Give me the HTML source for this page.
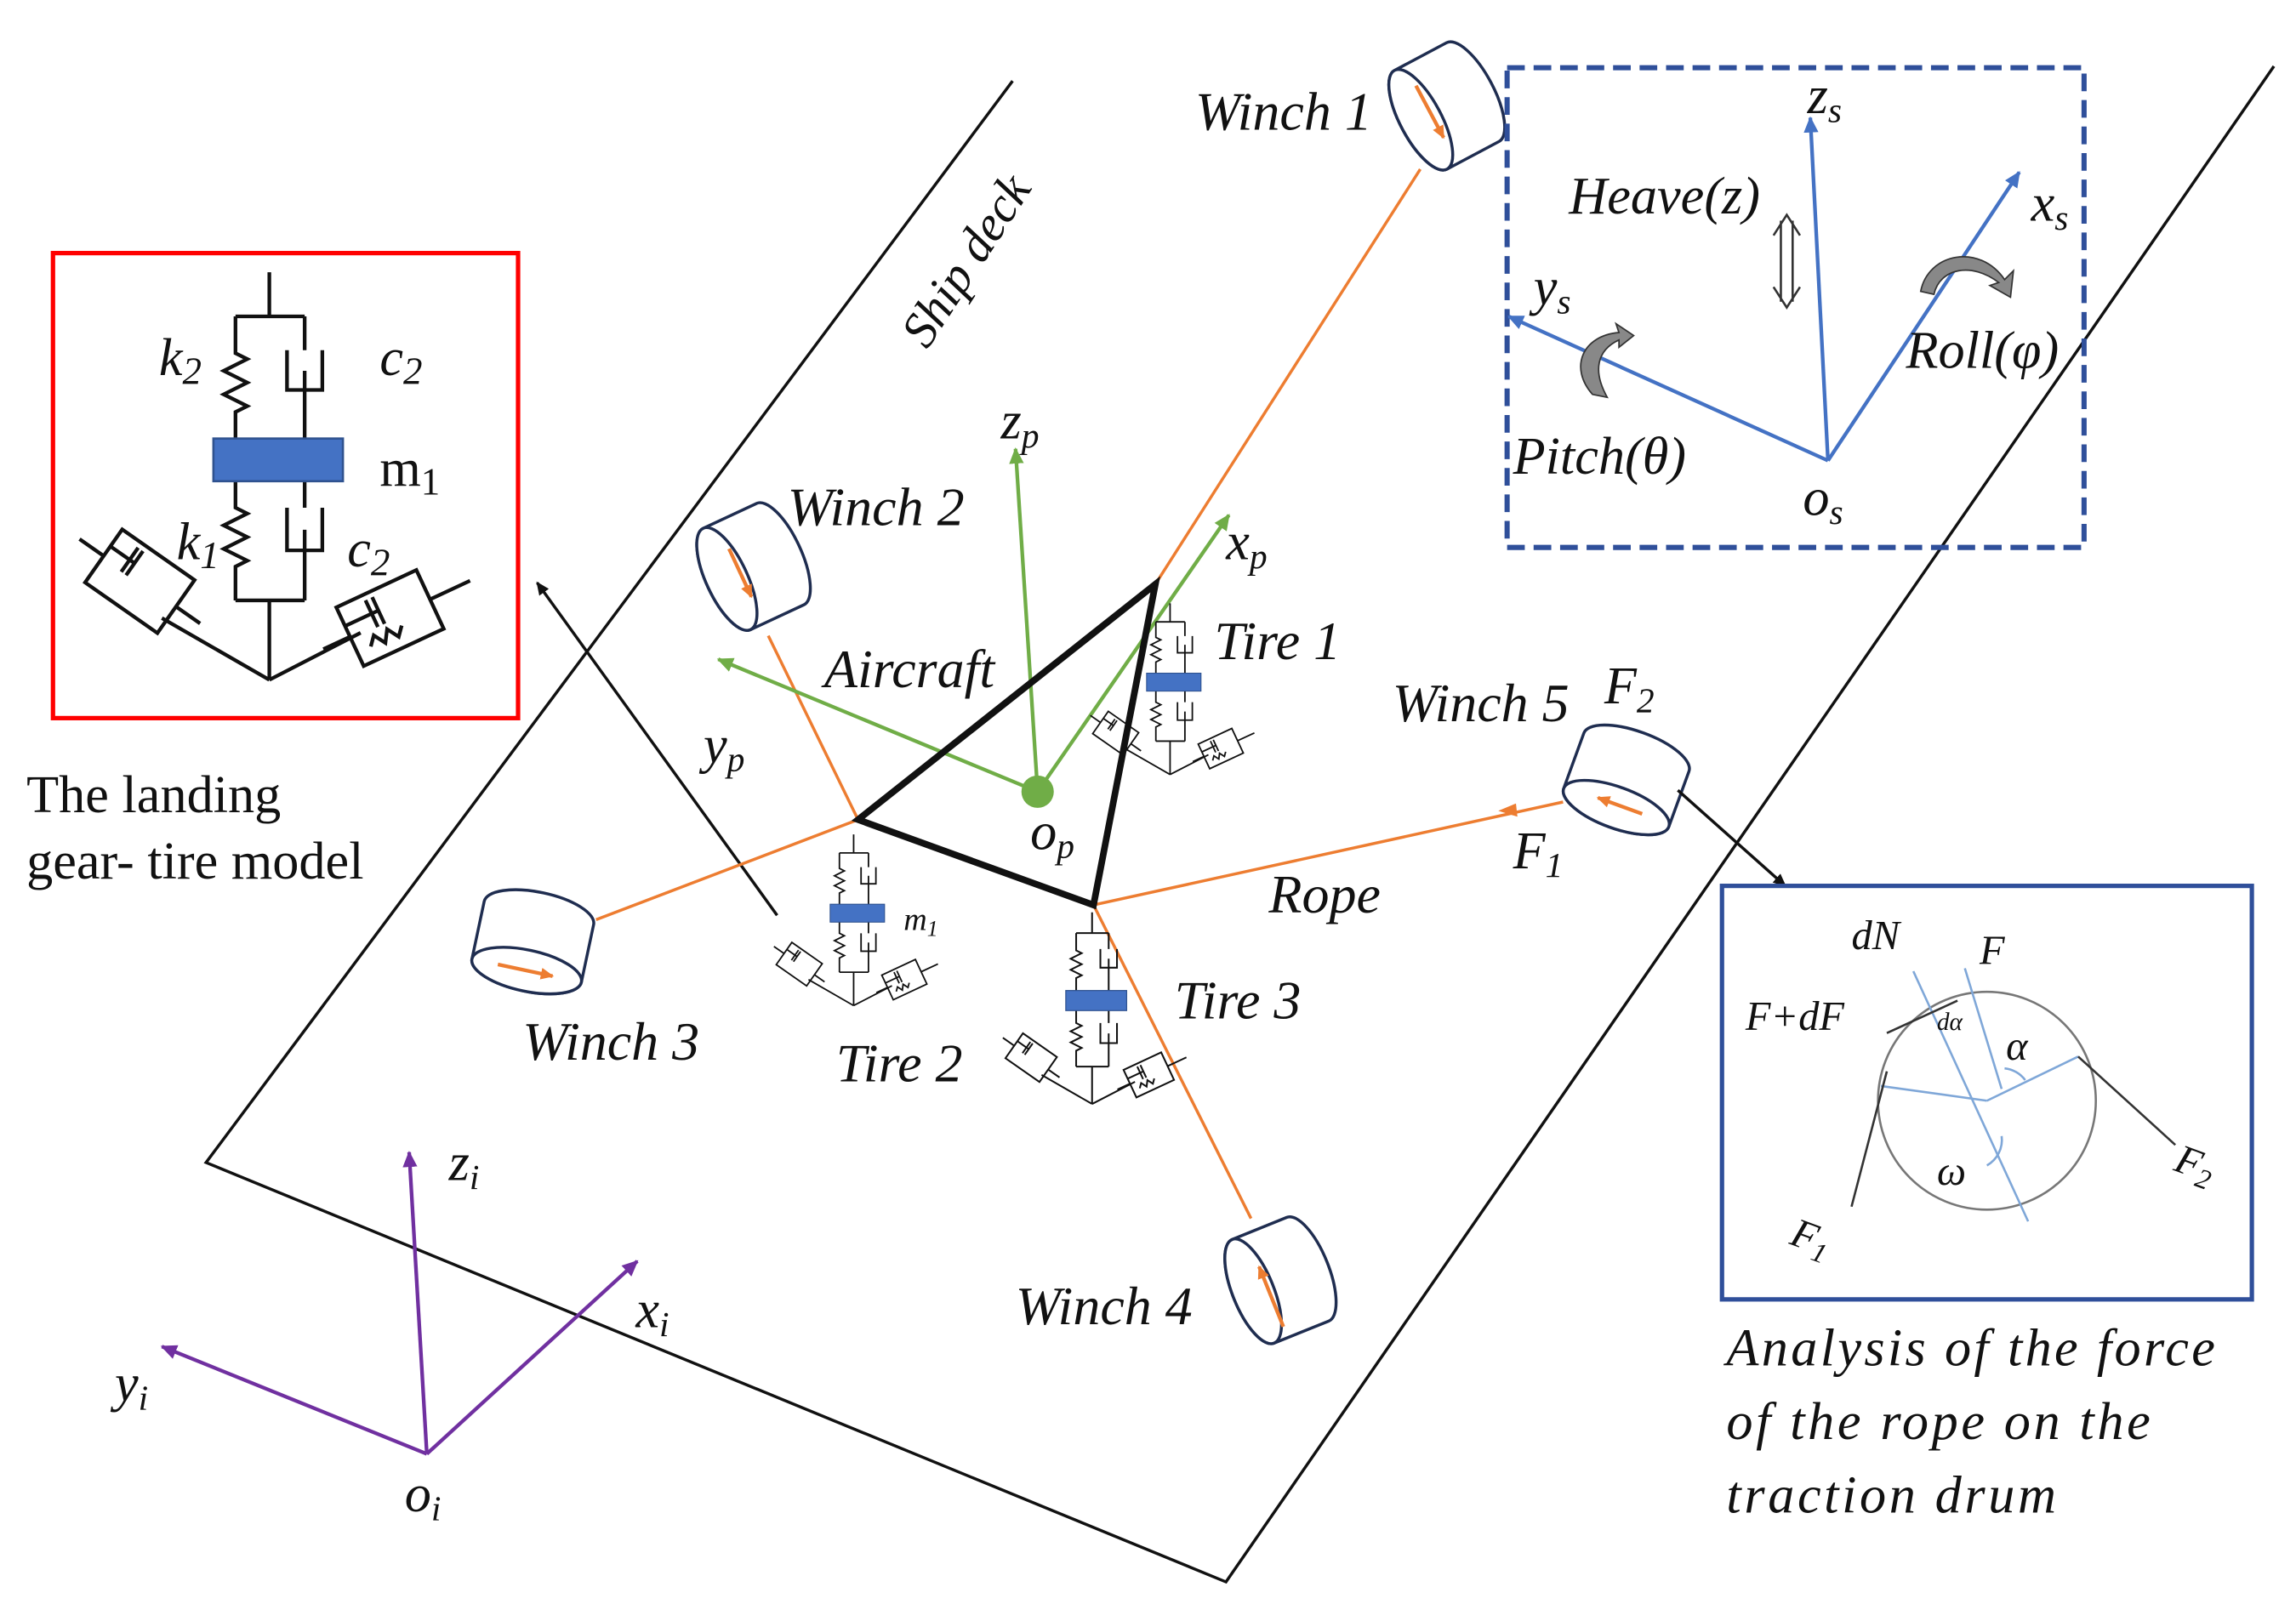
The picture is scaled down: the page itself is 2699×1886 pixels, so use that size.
<!DOCTYPE html>
<html><head><meta charset="utf-8"><style>
html,body{margin:0;padding:0;background:#fff;}
svg{display:block;}
text{font-family:"Liberation Serif",serif;font-style:italic;fill:#111;}
.up{font-style:normal;}
</style></head><body>
<svg width="2699" height="1886" viewBox="0 0 1560 1090" preserveAspectRatio="none" xmlns="http://www.w3.org/2000/svg">
<defs>
<marker id="ab" markerWidth="10" markerHeight="10" refX="8" refY="5" orient="auto" markerUnits="userSpaceOnUse"><path d="M0,1 L9,5 L0,9 z" fill="#111"/></marker>
<marker id="ag" markerWidth="12" markerHeight="12" refX="10" refY="6" orient="auto" markerUnits="userSpaceOnUse"><path d="M0,1 L11,6 L0,11 z" fill="#70ad47"/></marker>
<marker id="ap" markerWidth="12" markerHeight="12" refX="10" refY="6" orient="auto" markerUnits="userSpaceOnUse"><path d="M0,1 L11,6 L0,11 z" fill="#7030a0"/></marker>
<marker id="abl" markerWidth="12" markerHeight="12" refX="10" refY="6" orient="auto" markerUnits="userSpaceOnUse"><path d="M0,1 L11,6 L0,11 z" fill="#4472c4"/></marker>
<marker id="ao" markerWidth="10" markerHeight="10" refX="8" refY="5" orient="auto" markerUnits="userSpaceOnUse"><path d="M0,1 L9,5 L0,9 z" fill="#ed7d31"/></marker>
<g id="gear" fill="none" stroke="#111" stroke-width="2.5">
<path d="M183,185 V215 M160,215 H207 M160,215 V240 l8,4 l-16,8 l16,8 l-16,8 l16,8 l-8,4 V298 M207,215 V238 M195,238 V265 H219 V238 M207,252 V298"/>
<path d="M160,327 V345 l8,4 l-16,8 l16,8 l-16,8 l16,8 l-8,4 V408 M207,327 V345 M195,345 V374 H219 V345 M207,360 V408 M160,408 H207 M183,408 V462"/>
<path d="M183,462 L110,420 M183,462 L245,430"/>
<g transform="translate(95,395) rotate(35)"><rect x="-30" y="-22" width="60" height="44"/><path d="M-30,-8 H-10 M-10,-18 V2 M-14,-18 V2 M-50,0 H-30 M30,0 H50"/></g>
<g transform="translate(265,420) rotate(-25)"><rect x="-30" y="-22" width="60" height="44"/><path d="M-30,-8 H-5 M-5,-18 V2 M-10,-18 V2 M-50,0 H-30 M30,0 H60 M-20,12 l5,-6 l5,8 l5,-8 l5,8 l5,-6"/></g>
<rect x="145" y="298" width="88" height="29" fill="#4472c4" stroke="#2f528f" stroke-width="1.5"/>
</g>
<g id="cyl" fill="#fff" stroke="#1f2d50" stroke-width="2">
<path d="M-20,-38 L20,-38 A14,38 0 0 1 20,38 L-20,38 A14,38 0 0 1 -20,-38 Z"/>
<ellipse cx="-20" cy="0" rx="14" ry="38"/>
</g>
</defs>

<path d="M688,55 L140,790 L833,1075 L1545,45" fill="none" stroke="#111" stroke-width="2"/>
<text x="0" y="0" font-size="34" transform="translate(630,238) rotate(-57)">Ship deck</text>

<rect x="36" y="172" width="316" height="316" fill="none" stroke="#ff0000" stroke-width="3"/>
<use href="#gear"/>
<text x="108" y="255" font-size="36">k<tspan font-size="26" dy="6">2</tspan></text>
<text x="258" y="255" font-size="36">c<tspan font-size="26" dy="6">2</tspan></text>
<text x="258" y="330" font-size="36" class="up">m<tspan font-size="26" dy="6">1</tspan></text>
<text x="120" y="380" font-size="36">k<tspan font-size="26" dy="6">1</tspan></text>
<text x="236" y="385" font-size="36">c<tspan font-size="26" dy="6">2</tspan></text>
<text x="18" y="552" font-size="36" class="up">The landing</text>
<text x="18" y="597" font-size="36" class="up">gear- tire model</text>
<line x1="528" y1="622" x2="365" y2="396" stroke="#111" stroke-width="2" marker-end="url(#ab)"/>

<g stroke="#ed7d31" stroke-width="2" fill="none">
<line x1="785" y1="397" x2="965" y2="115"/>
<line x1="583" y1="557" x2="522" y2="432"/>
<line x1="583" y1="557" x2="405" y2="625"/>
<line x1="743" y1="615" x2="850" y2="828"/>
<line x1="743" y1="615" x2="1062" y2="545"/>
</g>
<path d="M1030,546 l-12,5 l13,4z" fill="#ed7d31"/>

<g transform="translate(983,72) rotate(-28)"><use href="#cyl"/><line x1="-12" y1="-22" x2="-12" y2="18" stroke="#ed7d31" stroke-width="2.5" marker-end="url(#ao)"/></g>
<g transform="translate(512,385) rotate(-25)"><use href="#cyl"/><line x1="-10" y1="-18" x2="-10" y2="18" stroke="#ed7d31" stroke-width="2.5" marker-end="url(#ao)"/></g>
<g transform="translate(362,640) rotate(-78)"><use href="#cyl"/><line x1="-20" y1="-20" x2="-20" y2="18" stroke="#ed7d31" stroke-width="2.5" marker-end="url(#ao)"/></g>
<g transform="translate(870,870) rotate(-22)"><use href="#cyl"/><line x1="-10" y1="30" x2="-10" y2="-14" stroke="#ed7d31" stroke-width="2.5" marker-end="url(#ao)"/></g>
<g transform="translate(1105,530) rotate(-70)"><use href="#cyl"/><line x1="-18" y1="18" x2="-18" y2="-14" stroke="#ed7d31" stroke-width="2.5" marker-end="url(#ao)"/></g>
<line x1="1140" y1="537" x2="1213" y2="602" stroke="#111" stroke-width="2" marker-end="url(#ab)"/>

<text x="812" y="88" font-size="37">Winch 1</text>
<text x="535" y="357" font-size="37">Winch 2</text>
<text x="355" y="720" font-size="37">Winch 3</text>
<text x="690" y="900" font-size="37">Winch 4</text>
<text x="946" y="490" font-size="37">Winch 5</text>
<text x="1090" y="478" font-size="36">F<tspan font-size="24" dy="6">2</tspan></text>
<text x="1028" y="590" font-size="36">F<tspan font-size="24" dy="6">1</tspan></text>
<text x="862" y="620" font-size="37">Rope</text>

<line x1="705" y1="538" x2="690" y2="305" stroke="#70ad47" stroke-width="2.5" marker-end="url(#ag)"/>
<line x1="705" y1="538" x2="835" y2="350" stroke="#70ad47" stroke-width="2.5" marker-end="url(#ag)"/>
<line x1="705" y1="538" x2="488" y2="448" stroke="#70ad47" stroke-width="2.5" marker-end="url(#ag)"/>
<path d="M583,557 L785,397 L743,615 Z" fill="none" stroke="#111" stroke-width="4.5"/>
<circle cx="705" cy="538" r="11" fill="#70ad47"/>
<text x="680" y="298" font-size="36">z<tspan font-size="24" dy="6">p</tspan></text>
<text x="833" y="380" font-size="36">x<tspan font-size="24" dy="6">p</tspan></text>
<text x="478" y="518" font-size="36">y<tspan font-size="24" dy="6">p</tspan></text>
<text x="560" y="467" font-size="37">Aircraft</text>
<text x="700" y="577" font-size="36">o<tspan font-size="24" dy="6">p</tspan></text>

<use href="#gear" transform="translate(795,410) scale(0.42) translate(-183,-185)"/>
<use href="#gear" transform="translate(580,567) scale(0.42) translate(-183,-185)"/>
<use href="#gear" transform="translate(742,620) scale(0.47) translate(-183,-185)"/>
<text x="825" y="448" font-size="37">Tire 1</text>
<text x="568" y="735" font-size="37">Tire 2</text>
<text x="798" y="692" font-size="37">Tire 3</text>
<text x="614" y="632" font-size="22">m<tspan font-size="15" dy="4">1</tspan></text>

<line x1="290" y1="988" x2="278" y2="783" stroke="#7030a0" stroke-width="2.5" marker-end="url(#ap)"/>
<line x1="290" y1="988" x2="433" y2="857" stroke="#7030a0" stroke-width="2.5" marker-end="url(#ap)"/>
<line x1="290" y1="988" x2="110" y2="915" stroke="#7030a0" stroke-width="2.5" marker-end="url(#ap)"/>
<text x="305" y="802" font-size="36">z<tspan font-size="24" dy="6">i</tspan></text>
<text x="432" y="902" font-size="36">x<tspan font-size="24" dy="6">i</tspan></text>
<text x="78" y="952" font-size="36">y<tspan font-size="24" dy="6">i</tspan></text>
<text x="275" y="1027" font-size="36">o<tspan font-size="24" dy="6">i</tspan></text>

<rect x="1024" y="46" width="392" height="326" fill="none" stroke="#2f4f9a" stroke-width="3.5" stroke-dasharray="12,6"/>
<line x1="1242" y1="313" x2="1230" y2="80" stroke="#4472c4" stroke-width="2.5" marker-end="url(#abl)"/>
<line x1="1242" y1="313" x2="1372" y2="117" stroke="#4472c4" stroke-width="2.5" marker-end="url(#abl)"/>
<line x1="1242" y1="313" x2="1025" y2="215" stroke="#4472c4" stroke-width="2.5" marker-end="url(#abl)"/>
<text x="1228" y="77" font-size="36">z<tspan font-size="24" dy="6">s</tspan></text>
<text x="1380" y="150" font-size="36">x<tspan font-size="24" dy="6">s</tspan></text>
<text x="1042" y="207" font-size="36">y<tspan font-size="24" dy="6">s</tspan></text>
<text x="1225" y="350" font-size="36">o<tspan font-size="24" dy="6">s</tspan></text>
<text x="1066" y="145" font-size="36">Heave(z)</text>
<text x="1295" y="250" font-size="36">Roll(φ)</text>
<text x="1028" y="322" font-size="36">Pitch(θ)</text>
<path d="M1210,150 V205 M1218,150 V205 M1205,160 l9,-14 l9,14 M1205,195 l9,14 l9,-14" stroke="#333" stroke-width="1.5" fill="none"/>
<path d="M1305,198 C1310,172 1345,165 1362,190 l6,-6 l-2,18 l-14,-8 l6,-2 C1340,178 1318,182 1314,200 z" fill="#888" stroke="#333" stroke-width="1"/>
<path d="M1082,268 C1066,250 1075,228 1100,226 l-2,-6 l12,8 l-10,8 l0,-5 C1085,238 1082,252 1092,270 z" fill="#888" stroke="#333" stroke-width="1"/>

<rect x="1170" y="602" width="360" height="281" fill="none" stroke="#2f4f9a" stroke-width="3"/>
<circle cx="1350" cy="748" r="74" fill="none" stroke="#777" stroke-width="1.5"/>
<g stroke="#7fa7d8" stroke-width="1.5" fill="none">
<line x1="1300" y1="660" x2="1378" y2="830"/>
<line x1="1335" y1="658" x2="1360" y2="740"/>
<line x1="1350" y1="748" x2="1412" y2="718"/>
<line x1="1350" y1="748" x2="1278" y2="738"/>
<path d="M1362,726 a20,20 0 0 1 14,8"/>
<path d="M1360,772 a20,20 0 0 1 -10,20"/>
</g>
<g stroke="#333" stroke-width="1.5" fill="none">
<path d="M1412,718 L1478,778"/>
<path d="M1282,728 L1258,820"/>
<path d="M1330,680 L1282,702"/>
</g>
<text x="1258" y="645" font-size="28">dN</text>
<text x="1345" y="655" font-size="28">F</text>
<text x="1186" y="700" font-size="28">F+dF</text>
<text x="1316" y="700" font-size="17">dα</text>
<text x="1363" y="720" font-size="28">α</text>
<text x="1316" y="805" font-size="28">ω</text>
<text x="1476" y="795" font-size="28" transform="rotate(20,1476,795)">F<tspan font-size="19" dy="5">2</tspan></text>
<text x="1215" y="845" font-size="28" transform="rotate(20,1215,845)">F<tspan font-size="19" dy="5">1</tspan></text>
<text x="1173" y="928" font-size="36" textLength="332">Analysis of the force</text>
<text x="1173" y="978" font-size="36" textLength="288">of the rope on the</text>
<text x="1173" y="1028" font-size="36" textLength="224">traction drum</text>
</svg>
</body></html>
